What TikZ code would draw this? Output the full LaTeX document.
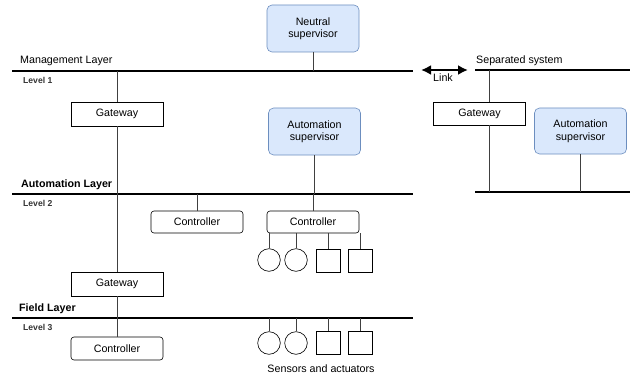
\documentclass[tikz,border=0pt]{standalone}
\usepackage{fontspec}
\setmainfont{Liberation Sans}
\usetikzlibrary{arrows.meta}
\definecolor{supfill}{HTML}{DAE8FC}
\definecolor{supdraw}{HTML}{6C8EBF}
\definecolor{lvlgray}{HTML}{333333}
\tikzset{
  box/.style={draw, line width=0.6pt, minimum width=92pt, minimum height=23pt, inner sep=0pt,
    align=center, font=\fontsize{10.7}{12.5}\selectfont},
  ctrl/.style={box, rounded corners=3pt},
  sup/.style={box, rounded corners=5pt, fill=supfill, draw=supdraw, minimum height=47pt},
  sens/.style={draw, line width=0.6pt, circle, minimum size=22.6pt, inner sep=0pt},
  act/.style={draw, line width=0.6pt, minimum width=24pt, minimum height=23pt, inner sep=0pt},
  bus/.style={line width=2pt},
  wire/.style={draw=black!75, line width=0.6pt},
  lyr/.style={anchor=west, inner sep=0pt, font=\fontsize{10.7}{12.5}\selectfont},
  lvl/.style={anchor=west, inner sep=0pt, text=lvlgray, font=\fontsize{8.6}{10}\selectfont\bfseries},
}
\begin{document}
\begin{tikzpicture}[x=1pt,y=-1pt]
        \useasboundingbox (0,0) rectangle (631,377);
        % bus lines
        \coordinate (l1w) at (12,71);   \coordinate (l1e) at (413,71);
        \coordinate (l2w) at (12,194);  \coordinate (l2e) at (413,194);
        \coordinate (l3w) at (12,318);  \coordinate (l3e) at (413,318);
        \coordinate (s1w) at (475,70);  \coordinate (s1e) at (630,70);
        \coordinate (s2w) at (475,192); \coordinate (s2e) at (630,192);
        \draw[bus] (l1w) -- (l1e);
        \draw[bus] (l2w) -- (l2e);
        \draw[bus] (l3w) -- (l3e);
        \draw[bus] (s1w) -- (s1e);
        \draw[bus] (s2w) -- (s2e);
        % layer labels
        \node[lyr] (mgmt) at (20,61) {Management Layer};
        \node[lvl] (lvl1) at (23,80) {Level 1};
        \node[lyr, font=\fontsize{10.7}{12.5}\selectfont\bfseries] (auto) at (21,185) {Automation Layer};
        \node[lvl] (lvl2) at (23,203) {Level 2};
        \node[lyr, font=\fontsize{10.7}{12.5}\selectfont\bfseries] (field) at (19,309) {Field Layer};
        \node[lvl] (lvl3) at (23,327) {Level 3};
        \node[lyr] (sepsys) at (476,61) {Separated system};
        % level 1
        \node[sup] (neutral) at (313,28.5) {Neutral\\supervisor};
        \node[box, minimum height=24pt] (gwA) at (117,114) {Gateway};
        \node[sup] (autsup) at (314.5,131.5) {Automation\\supervisor};
        \draw[wire] (neutral) -- (neutral |- l1w);
        \draw[wire] (gwA) -- (gwA |- l1w);
        \draw[wire] (autsup) -- (autsup.south |- l2w);
        % level 2
        \node[ctrl, minimum height=22pt] (ctrlA) at (197,222) {Controller};
        \node[ctrl, minimum height=22pt] (ctrlB) at (313,222) {Controller};
        \node[box, minimum height=24pt] (gwB) at (117,284) {Gateway};
        \draw[wire] (ctrlA) -- (ctrlA |- l2w);
        \draw[wire] (ctrlB) -- (ctrlB |- l2w);
        \draw[wire] (gwA) -- (gwB);
        \node[sens] (s1) at (269,260) {};
        \node[sens] (s2) at (296,260) {};
        \node[act] (s3) at (328,260.5) {};
        \node[act] (s4) at (360,260.5) {};
        \draw[wire] (s1.north) -- (s1.north |- ctrlB.south);
        \draw[wire] (s2.north) -- (s2.north |- ctrlB.south);
        \draw[wire] (s3.north) -- (s3.north |- ctrlB.south);
        \draw[wire] (s4.north) -- (s4.north |- ctrlB.south);
        % level 3
        \node[ctrl] (ctrlC) at (117,348.5) {Controller};
        \draw[wire] (gwB) -- (ctrlC);
        \node[sens] (f1) at (269,343) {};
        \node[sens] (f2) at (296,343) {};
        \node[act] (f3) at (328,343) {};
        \node[act] (f4) at (360,343) {};
        \draw[wire] (f1.north) -- (f1.north |- l3w);
        \draw[wire] (f2.north) -- (f2.north |- l3w);
        \draw[wire] (f3.north) -- (f3.north |- l3w);
        \draw[wire] (f4.north) -- (f4.north |- l3w);
        \node[font=\fontsize{10.7}{12.5}\selectfont] (sensact) at (321,369) {Sensors and actuators};
        % separated system
        \node[box] (gwC) at (479.5,113.5) {Gateway};
        \node[sup, minimum height=46pt] (autsupB) at (580.5,131) {Automation\\supervisor};
        \coordinate (gcx) at (489,70);
        \draw[wire] (gcx) -- (gcx |- gwC.north);
        \draw[wire] (gcx |- gwC.south) -- (gcx |- s2w);
        \draw[wire] (autsupB) -- (autsupB |- s2w);
        % link
        \coordinate (lkw) at (421,70);
        \coordinate (lke) at (468,70);
        \node[fill=white, inner sep=1pt, font=\fontsize{10.7}{12.5}\selectfont] (link) at (443,78) {Link};
        \draw[line width=2pt, {Latex[length=10pt,width=10pt]}-{Latex[length=10pt,width=10pt]}] (lkw) -- (lke);
\end{tikzpicture}
\end{document}
